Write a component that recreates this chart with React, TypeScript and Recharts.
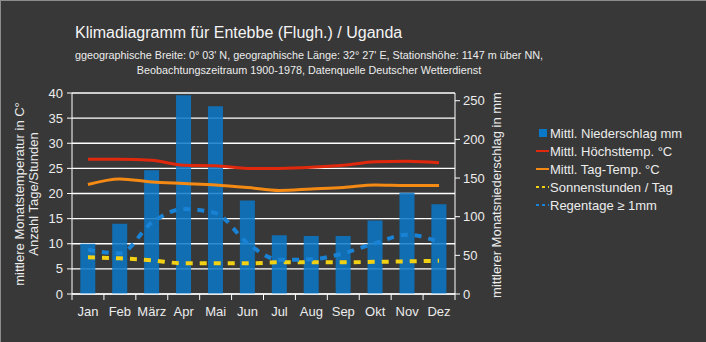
import { Bar, CartesianGrid, ComposedChart, Line, XAxis, YAxis } from 'recharts'

const MONTHS = ['Jan', 'Feb', 'März', 'Apr', 'Mai', 'Jun', 'Jul', 'Aug', 'Sep', 'Okt', 'Nov', 'Dez']
const RAIN_MM = [65, 91, 160, 257, 243, 121, 76, 75, 75, 95, 131, 116]
const MAX_TEMP = [26.8, 26.8, 26.6, 25.6, 25.5, 25.0, 25.0, 25.2, 25.6, 26.3, 26.4, 26.1]
const DAY_TEMP = [21.8, 22.9, 22.3, 22.0, 21.7, 21.2, 20.6, 20.9, 21.2, 21.7, 21.6, 21.6]
const SUN_HOURS = [7.3, 7.1, 6.7, 6.1, 6.1, 6.1, 6.3, 6.3, 6.3, 6.4, 6.5, 6.6]
const RAIN_DAYS = [8.8, 8.1, 14.2, 16.9, 16.1, 10.1, 6.8, 6.9, 8.1, 10.1, 11.8, 10.4]

const LEFT_TICKS = [0, 5, 10, 15, 20, 25, 30, 35, 40]
const RIGHT_TICKS = [0, 50, 100, 150, 200, 250]

const W = 706
const H = 342
const PLOT_LEFT = 72
const PLOT_RIGHT = 455
const BAND = (PLOT_RIGHT - PLOT_LEFT) / MONTHS.length

const BG = '#383838'
const TEXT = '#ececec'
const FONT = '"Liberation Sans", Arial, sans-serif'

const C_RAIN = '#0a78c8'
const C_MAX = '#e0280c'
const C_DAY = '#f48a14'
const C_SUN = '#f2d014'
const C_DAYS = '#1a82d4'

const data = MONTHS.map((month, i) => ({
  month,
  rain: RAIN_MM[i],
  maxTemp: MAX_TEMP[i],
  dayTemp: DAY_TEMP[i],
  sun: SUN_HOURS[i],
  rainDays: RAIN_DAYS[i]
}))

const LEGEND = [
  { label: 'Mittl. Niederschlag mm', color: C_RAIN, kind: 'box' },
  { label: 'Mittl. Höchsttemp. °C', color: C_MAX, kind: 'line' },
  { label: 'Mittl. Tag-Temp. °C', color: C_DAY, kind: 'line' },
  { label: 'Sonnenstunden / Tag', color: C_SUN, kind: 'dash' },
  { label: 'Regentage ≥ 1mm', color: C_DAYS, kind: 'dash' }
]

// month label in the band centre, tick marks on the band edges
function MonthTick({ x, y, payload, index }: any) {
  const half = BAND / 2
  return (
    <g>
      <line x1={x - half} y1={y} x2={x - half} y2={y + 6} stroke='#fff' />
      {index === MONTHS.length - 1 ? (
        <line x1={x + half} y1={y} x2={x + half} y2={y + 6} stroke='#fff' />
      ) : null}
      <text x={x} y={y + 22} textAnchor='middle' fill={TEXT} fontSize={13} fontFamily={FONT}>
        {payload.value}
      </text>
    </g>
  )
}

export default function App() {
  return (
    <div
      style={{
        position: 'fixed',
        left: 0,
        top: 0,
        width: W,
        height: H,
        background: BG,
        boxSizing: 'border-box',
        borderTop: '1px solid #8c8c8c',
        borderLeft: '1px solid #8c8c8c',
        fontFamily: FONT,
        overflow: 'hidden'
      }}
    >
      <div style={{ position: 'absolute', left: -1, top: -1 }}>
        <ComposedChart
          width={W}
          height={H}
          data={data}
          margin={{ top: 93, right: W - PLOT_RIGHT - 45, bottom: 18, left: 0 }}
          barCategoryGap='26%'
        >
          <CartesianGrid yAxisId='left' vertical={false} stroke='#ffffff' strokeWidth={1.3} />
          <XAxis
            dataKey='month'
            height={30}
            tickSize={0}
            tickMargin={0}
            axisLine={{ stroke: '#fff' }}
            tick={<MonthTick />}
            interval={0}
          />
          <YAxis
            yAxisId='left'
            width={PLOT_LEFT}
            domain={[0, 40]}
            ticks={LEFT_TICKS}
            tickSize={5}
            tickMargin={4}
            axisLine={{ stroke: '#fff' }}
            tickLine={{ stroke: '#fff' }}
            tick={{ fill: TEXT, fontSize: 13, fontFamily: FONT }}
            allowDataOverflow
          />
          <YAxis
            yAxisId='right'
            orientation='right'
            width={45}
            domain={[0, 260]}
            ticks={RIGHT_TICKS}
            tickSize={5}
            tickMargin={3}
            axisLine={{ stroke: '#fff' }}
            tickLine={{ stroke: '#fff' }}
            tick={{ fill: TEXT, fontSize: 13, fontFamily: FONT, textAnchor: 'start' }}
            allowDataOverflow
          />
          <Bar yAxisId='right' dataKey='rain' fill={C_RAIN} fillOpacity={0.85} isAnimationActive={false} />
          <Line yAxisId='left' type='monotone' dataKey='maxTemp' stroke={C_MAX} strokeWidth={3} dot={false} isAnimationActive={false} />
          <Line yAxisId='left' type='monotone' dataKey='dayTemp' stroke={C_DAY} strokeWidth={3} dot={false} isAnimationActive={false} />
          <Line yAxisId='left' type='monotone' dataKey='sun' stroke={C_SUN} strokeWidth={4} strokeDasharray='7 7' dot={false} isAnimationActive={false} />
          <Line yAxisId='left' type='monotone' dataKey='rainDays' stroke={C_DAYS} strokeWidth={4} strokeDasharray='7 7' dot={false} isAnimationActive={false} />
        </ComposedChart>
      </div>

      <svg width={W} height={H} style={{ position: 'absolute', left: -1, top: -1, pointerEvents: 'none' }}>
        <text x={75} y={38} fill='#f4f4f4' fontSize={16} fontFamily={FONT}>
          Klimadiagramm für Entebbe (Flugh.) / Uganda
        </text>
        <text x={309} y={59} textAnchor='middle' fill={TEXT} fontSize={10.8} fontFamily={FONT}>
          ggeographische Breite: 0° 03' N, geographische Länge: 32° 27' E, Stationshöhe: 1147 m über NN,
        </text>
        <text x={309} y={74} textAnchor='middle' fill={TEXT} fontSize={10.8} fontFamily={FONT}>
          Beobachtungszeitraum 1900-1978, Datenquelle Deutscher Wetterdienst
        </text>
        <text transform='translate(24 194) rotate(-90)' textAnchor='middle' fill={TEXT} fontSize={13} fontFamily={FONT}>
          mittlere Monatstemperatur in C°
        </text>
        <text transform='translate(38 194) rotate(-90)' textAnchor='middle' fill={TEXT} fontSize={13} fontFamily={FONT}>
          Anzahl Tage/Stunden
        </text>
        <text transform='translate(501 195) rotate(-90)' textAnchor='middle' fill={TEXT} fontSize={13} fontFamily={FONT}>
          mittlerer Monatsniederschlag in mm
        </text>
        {LEGEND.map((item, i) => {
          const y = 133 + i * 18
          return (
            <g key={item.label}>
              {item.kind === 'box' ? (
                <rect x={539} y={y - 4} width={8} height={8} fill={item.color} />
              ) : item.kind === 'line' ? (
                <line x1={536} x2={549} y1={y} y2={y} stroke={item.color} strokeWidth={2} />
              ) : (
                <line x1={536} x2={549} y1={y} y2={y} stroke={item.color} strokeWidth={2} strokeDasharray='3 3' />
              )}
              <text x={550} y={y + 5} fill={TEXT} fontSize={13} fontFamily={FONT}>
                {item.label}
              </text>
            </g>
          )
        })}
      </svg>
    </div>
  )
}
